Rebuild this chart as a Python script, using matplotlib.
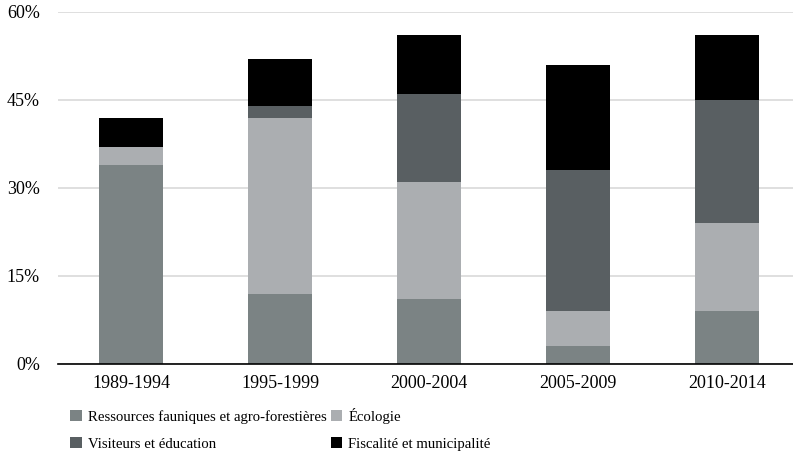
import numpy as np
import matplotlib.pyplot as plt
from matplotlib.ticker import FuncFormatter

plt.rcParams['font.family'] = ['Liberation Serif', 'DejaVu Serif']

# Périodes et parts (%) par thème
periodes = ['1989-1994', '1995-1999', '2000-2004', '2005-2009', '2010-2014']
ressources = [34, 12, 11, 3, 9]
ecologie = [3, 30, 20, 6, 15]
visiteurs = [0, 2, 15, 24, 21]
fiscalite = [5, 8, 10, 18, 11]

series = [
    ('Ressources fauniques et agro-forestières', ressources, '#7b8384'),
    ('Écologie', ecologie, '#abaeb1'),
    ('Visiteurs et éducation', visiteurs, '#595f62'),
    ('Fiscalité et municipalité', fiscalite, '#000000'),
]

fig = plt.figure(figsize=(7.93, 4.54), dpi=100)
ax = fig.add_axes([58 / 793, 1 - 364 / 454, 735 / 793, 352 / 454])

x = np.arange(len(periodes))
bottom = np.zeros(len(periodes))
for label, vals, col in series:
    ax.bar(x, vals, 0.43, bottom=bottom, color=col, label=label, zorder=2)
    bottom += np.array(vals)

ax.set_ylim(0, 60)
ax.set_xlim(-0.49, 4.44)
ax.set_yticks([0, 15, 30, 45, 60])
ax.yaxis.set_major_formatter(FuncFormatter(lambda v, p: f'{v:.0f}%'))
ax.set_xticks(x)
ax.set_xticklabels(periodes)
ax.tick_params(axis='both', length=0, labelsize=13, colors='#000000')
ax.tick_params(axis='x', pad=8)
ax.tick_params(axis='y', pad=13)

ax.grid(axis='y', color='#d9d9d9', linewidth=1.2, zorder=0)
for s in ['top', 'right', 'left']:
    ax.spines[s].set_visible(False)
ax.spines['bottom'].set_color('#000000')
ax.spines['bottom'].set_linewidth(1.2)
ax.spines['bottom'].set_zorder(3)

# ordre ligne par ligne comme dans l'original
handles, labels = ax.get_legend_handles_labels()
order = [0, 2, 1, 3]
fig.legend([handles[i] for i in order], [labels[i] for i in order], ncol=2, loc='upper left',
           bbox_to_anchor=(64 / 793, 1 - 402 / 454),
           frameon=False, fontsize=10.6, handlelength=0.8, handleheight=0.8,
           handletextpad=0.4, columnspacing=0.3, labelspacing=0.9, borderaxespad=0)

fig.savefig('out.png', dpi=100)
